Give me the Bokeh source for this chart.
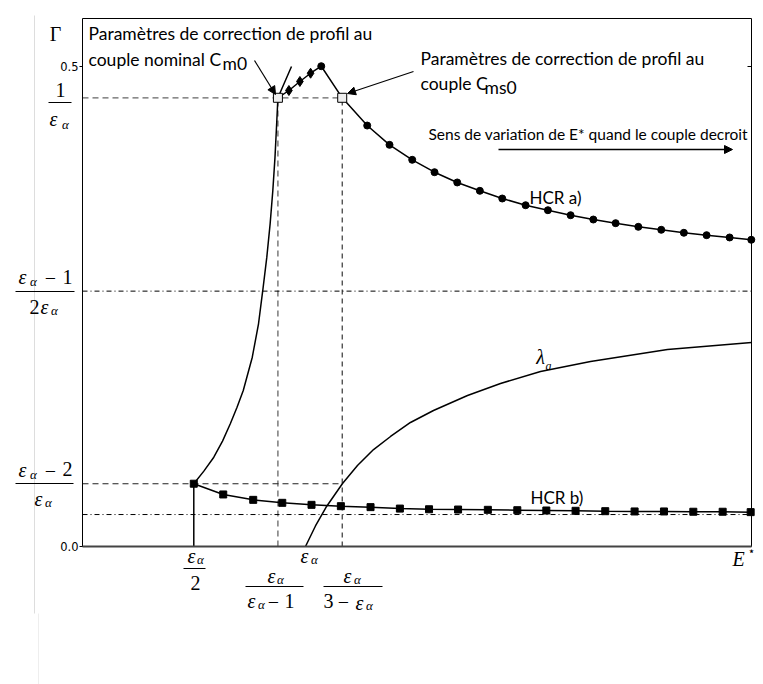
from bokeh.plotting import figure
from bokeh.models import Range1d, Label, Arrow, NormalHead
from bokeh.embed import file_html
from bokeh.resources import INLINE

# ---------------- data ----------------
x_max = 6.45
y_max = 0.55

# characteristic values
inv_eps = 0.4674        # 1/eps_a
half_ratio = 0.266      # (eps_a-1)/(2 eps_a)
ratio2 = 0.0654         # (eps_a-2)/eps_a
ratio2_half = 0.0333    # asymptote of HCR b)
x_half = 1.073          # eps_a/2
x_m0 = 1.884            # eps_a/(eps_a-1)
x_eps = 2.150           # eps_a
x_ms0 = 2.504           # eps_a/(3-eps_a)

# HCR a) branch (open square, diamonds, peak, open square, circles)
hcr_a_x = [1.884, 1.990, 2.096, 2.199, 2.302, 2.504, 2.745, 2.960, 3.179, 3.394,
           3.613, 3.831, 4.047, 4.272, 4.487, 4.706, 4.925, 5.140, 5.359, 5.580,
           5.798, 6.017, 6.239, 6.448]
hcr_a_y = [0.4674, 0.4750, 0.4844, 0.4930, 0.5003, 0.4674, 0.4385, 0.4184, 0.4028, 0.3899,
           0.3792, 0.3705, 0.3625, 0.3555, 0.3503, 0.3451, 0.3406, 0.3368, 0.3330, 0.3299,
           0.3268, 0.3243, 0.3219, 0.3195]
diam_idx = [1, 2, 3]
circ_idx = [4] + list(range(6, 24))
open_idx = [0, 5]

# HCR b) branch (squares)
hcr_b_x = [1.073, 1.357, 1.646, 1.926, 2.208, 2.491, 2.777, 3.060, 3.341, 3.621,
           3.908, 4.192, 4.472, 4.754, 5.040, 5.323, 5.606, 5.889, 6.172, 6.442]
hcr_b_y = [0.0654, 0.0542, 0.0486, 0.0455, 0.0434, 0.0420, 0.0410, 0.0395, 0.0388, 0.0385,
           0.0382, 0.0378, 0.0375, 0.0372, 0.0368, 0.0365, 0.0365, 0.0362, 0.0362, 0.0358]

# steep rising curve from eps_a/2 to the nominal point
steep_x = [1.073, 1.170, 1.266, 1.350, 1.425, 1.490, 1.550, 1.637, 1.697, 1.738, 1.777,
           1.809, 1.835, 1.856, 1.872, 1.884, 2.015]
steep_y = [0.0654, 0.0785, 0.0930, 0.1098, 0.1278, 0.1450, 0.1625, 0.1972, 0.2320, 0.2667,
           0.3014, 0.3361, 0.3708, 0.4056, 0.4403, 0.4674, 0.5000]

# lambda_a curve
lam_x = [2.150, 2.246, 2.353, 2.507, 2.651, 2.806, 2.970, 3.162, 3.384, 3.712,
         4.030, 4.416, 4.898, 5.640, 6.450]
lam_y = [0.0, 0.0214, 0.0417, 0.0656, 0.0844, 0.1010, 0.1146, 0.1292, 0.1417, 0.1573,
         0.1698, 0.1823, 0.1927, 0.2052, 0.2125]

y_ticks = [0.0, 0.5]
y_tick_labels = ["0.0", "0.5"]

# ---------------- figure ----------------
W, H = 763, 684
FL, FR, FT, FB = 82, 751, 18, 546          # plot box in canvas pixels
kx = (FR - FL) / x_max
ky = (FB - FT) / y_max

p = figure(width=W, height=H, output_backend="svg", toolbar_location=None,
           x_range=Range1d(-FL / kx, x_max + (W - FR) / kx),
           y_range=Range1d(-(H - FB) / ky, y_max + FT / ky),
           x_axis_location=None, y_axis_location=None,
           min_border=0)
p.grid.visible = False
p.outline_line_color = None
p.background_fill_color = "white"
p.border_fill_color = "white"


def X(px):
    return (px - FL) / kx


def Y(py):
    return (FB - py) / ky


# faint border of the original scan
p.line([X(34), X(34)], [Y(15), Y(613)], line_color="#dddddd", line_width=1)
p.line([X(38), X(38)], [Y(613), Y(684)], line_color="#eeeeee", line_width=1)

# ---------------- reference lines ----------------
p.line([0, x_ms0], [inv_eps, inv_eps], line_color="#666666", line_dash="6 4", line_width=1.3)
p.line([x_m0, x_m0], [0, inv_eps], line_color="#666666", line_dash="6 4", line_width=1.3)
p.line([x_ms0, x_ms0], [0, inv_eps], line_color="#222222", line_dash="5 4", line_width=1.1)
p.line([0, x_ms0], [ratio2, ratio2], line_color="#222222", line_dash="6 4", line_width=1.1)
p.line([0, x_max], [half_ratio, half_ratio], line_color="black", line_dash="5 3 1 3", line_width=1)
p.line([0, x_max], [ratio2_half, ratio2_half], line_color="black", line_dash="5 3 1 3", line_width=1)
p.line([x_half, x_half], [0, ratio2], line_color="black", line_width=1.5)

# ---------------- curves ----------------
p.line(steep_x, steep_y, line_color="black", line_width=1.5)
p.line(lam_x, lam_y, line_color="black", line_width=1.5)
p.line(hcr_a_x, hcr_a_y, line_color="black", line_width=1.5)
p.line(hcr_b_x, hcr_b_y, line_color="black", line_width=1.5)

p.scatter([hcr_a_x[i] for i in circ_idx], [hcr_a_y[i] for i in circ_idx],
          marker="circle", size=7, fill_color="black", line_color="black")
p.scatter([hcr_a_x[i] for i in diam_idx], [hcr_a_y[i] for i in diam_idx],
          marker="diamond", size=10, fill_color="black", line_color="black")
p.scatter(hcr_b_x, hcr_b_y, marker="square", size=7, fill_color="black", line_color="black")
p.scatter([hcr_a_x[i] for i in open_idx], [hcr_a_y[i] for i in open_idx],
          marker="square", size=9, fill_color="#eeeeee", line_color="black", line_width=1)

# ---------------- plot box and y ticks ----------------
p.quad(left=[0], right=[x_max], bottom=[0], top=[y_max],
       fill_color=None, line_color="black", line_width=1)
p.line([0, x_max], [0, 0], line_color="#444444", line_width=2)
p.segment(x0=[-3 / kx] * len(y_ticks), y0=y_ticks, x1=[0] * len(y_ticks), y1=y_ticks,
          line_color="black", line_width=1)
p.segment(x0=[x_max - 4 / kx], y0=[y_ticks[1]], x1=[x_max], y1=[y_ticks[1]],
          line_color="black", line_width=1)
for v, t in zip(y_ticks, y_tick_labels):
    p.add_layout(Label(x=-4 / kx, y=v, text=t, text_align="right", text_baseline="middle",
                       text_font="DejaVu Sans", text_font_size="11.5px", text_color="black"))

# ---------------- text helpers ----------------
SERIF = "Liberation Serif"
SANS = "Lato"


def T(px, py, text, size, style="normal", font=SERIF, align="center", color="black"):
    p.add_layout(Label(x=X(px), y=Y(py), text=text, text_align=align,
                       text_baseline="middle", text_font=font,
                       text_font_size=f"{size}px", text_font_style=style,
                       text_color=color))


def bar(x0, x1, py):
    p.line([X(x0), X(x1)], [Y(py), Y(py)], line_color="black", line_width=1)


def arrow(x0, y0, x1, y1, lw=1.2, size=8):
    p.add_layout(Arrow(x_start=X(x0), y_start=Y(y0), x_end=X(x1), y_end=Y(y1),
                       end=NormalHead(size=size, fill_color="black", line_color="black"),
                       line_color="black", line_width=lw))


M, S = 20, 13   # math font size, subscript size

# y label
T(55, 33, "Γ", 20)
# 1/eps
T(60, 89, "1", M)
bar(48, 71, 102)
T(53, 118, "ε", M, "italic"); T(65, 124, "α", S, "italic")
# (eps-1)/(2 eps)
T(22, 276, "ε", M, "italic"); T(33, 281, "α", S, "italic")
T(50, 277, "−", M); T(67, 276, "1", M)
bar(15, 74, 291)
T(34, 306, "2", M); T(44, 306, "ε", M, "italic"); T(54, 310, "α", S, "italic")
# (eps-2)/eps
T(22, 469, "ε", M, "italic"); T(33, 474, "α", S, "italic")
T(50, 470, "−", M); T(67, 468, "2", M)
bar(15, 73, 483)
T(38, 498, "ε", M, "italic"); T(48, 502, "α", S, "italic")

# bottom labels
T(191, 555, "ε", M, "italic"); T(200, 559, "α", S, "italic")
bar(183, 205, 568)
T(195, 582, "2", M)
T(304, 555, "ε", M, "italic"); T(314, 559, "α", S, "italic")
T(271, 575, "ε", M, "italic"); T(280, 579, "α", S, "italic")
bar(245, 303, 586)
T(251, 600, "ε", M, "italic"); T(261, 604, "α", S, "italic")
T(273, 601, "−", M); T(289, 600, "1", M)
T(347, 575, "ε", M, "italic"); T(357, 579, "α", S, "italic")
bar(323, 382, 586)
T(328, 600, "3", M); T(343, 601, "−", M)
T(359, 602, "ε", M, "italic"); T(369, 605, "α", S, "italic")
T(738, 558, "E", M, "italic"); T(751, 550, "⋆", 12, font="DejaVu Sans")

# curve labels
T(540, 356, "λ", M, "italic"); T(548, 365, "a", 12, "italic")
T(529, 197, "HCR a)", 17, font=SANS, align="left")
T(530, 497, "HCR b)", 17, font=SANS, align="left")

# annotations
T(88, 33, "Paramètres de correction de profil au", 17.5, font=SANS, align="left")
T(88, 59, "couple nominal C", 17.5, font=SANS, align="left")
T(222, 63, "m0", 17.5, font=SANS, align="left")
arrow(254, 60, 275, 94)

T(420, 58, "Paramètres de correction de profil au", 17.5, font=SANS, align="left")
T(420, 83, "couple C", 17.5, font=SANS, align="left")
T(484, 87, "ms0", 17.5, font=SANS, align="left")
arrow(413, 71, 347, 93)

T(428, 133, "Sens de variation de E* quand le couple decroit", 15.5, font=SANS, align="left")
arrow(498, 149, 732, 149, lw=1.5)

open("out.html", "w").write(file_html(p, INLINE))
